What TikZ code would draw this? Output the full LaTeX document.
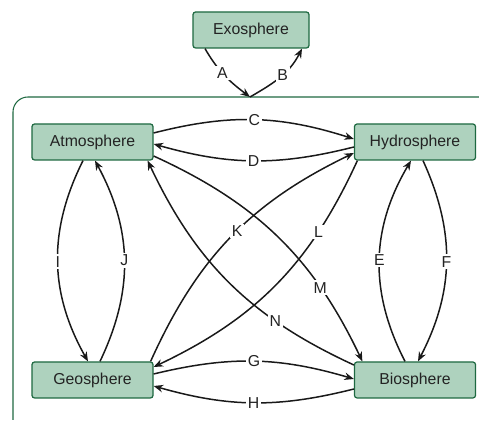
\documentclass[tikz,border=0pt]{standalone}
\definecolor{spheredark}{RGB}{30, 105, 65}
\definecolor{spherefill}{RGB}{174, 210, 190}
\definecolor{spheretext}{RGB}{35, 35, 35}
\usepackage{fontspec}
\setmainfont{Liberation Sans}
\usepackage{tikz}
\usetikzlibrary{arrows.meta}

\begin{document}
\begin{tikzpicture}[
    sphere/.style={draw=spheredark, line width=0.7pt, rounded corners=1.5pt, minimum width=2.42cm, minimum height=0.72cm, inner sep=0pt, align=center, fill=spherefill, text=spheretext, font=\fontsize{9}{11}\selectfont},
    flow/.style={-{Stealth[length=1.9mm, width=1.5mm]}, line width=0.85pt, color=black!90},
    tag/.style={fill=white, inner sep=1pt, text=spheretext, font=\fontsize{9}{11}\selectfont}
  ]
    \useasboundingbox (0, 0) rectangle (9.58, 8.44);

    % outer frame
    \draw[spheredark, line width=0.6pt, rounded corners=0.3cm] (9.58, 6.5) -- (0.26, 6.5) -- (0.26, 0.04);
    \coordinate (gate) at (5.0, 6.5);

    \node[sphere, minimum width=2.32cm] (exo) at (5.02, 7.84) {Exosphere};
    \node[sphere] (atm) at (1.85, 5.6) {Atmosphere};
    \node[sphere] (hyd) at (8.3, 5.6) {Hydrosphere};
    \node[sphere] (geo) at (1.85, 0.84) {Geosphere};
    \node[sphere] (bio) at (8.3, 0.84) {Biosphere};

    \draw[flow] ([xshift=-0.92cm]exo.south) to[out=-60, in=143] node[tag, pos=0.45] {A} (gate);
    \draw[flow] (gate) to[out=30, in=-117] node[tag, pos=0.55] {B} ([xshift=1.02cm]exo.south);

    \draw[flow] ([yshift=0.18cm]atm.east) to[bend left=16] node[tag] {C} ([yshift=0.06cm]hyd.west);
    \draw[flow] ([yshift=-0.1cm]hyd.west) to[bend left=15] node[tag] {D} ([yshift=-0.04cm]atm.east);
    \draw[flow] ([xshift=-0.2cm]bio.north) to[bend left=29] node[tag] {E} ([xshift=-0.08cm]hyd.south);
    \draw[flow] ([xshift=0.16cm]hyd.south) to[bend left=26] node[tag] {F} ([xshift=0.06cm]bio.north);
    \draw[flow] ([yshift=0.12cm]geo.east) to[bend left=15] node[tag] {G} ([yshift=0.02cm]bio.west);
    \draw[flow] ([yshift=-0.18cm]bio.west) to[bend left=15] node[tag] {H} ([yshift=-0.12cm]geo.east);
    \draw[flow] ([xshift=-0.19cm]atm.south) to[bend right=28] node[tag] {I} ([xshift=-0.09cm]geo.north);
    \draw[flow] ([xshift=0.15cm]geo.north) to[bend right=27] node[tag] {J} ([xshift=0.05cm]atm.south);

    \draw[flow] ([xshift=-0.06cm]geo.north east) to[bend left=20] node[tag, pos=0.53] {K} ([yshift=-0.22cm]hyd.west);
    \draw[flow] ([xshift=0.07cm]hyd.south west) to[bend left=20] node[tag, pos=0.26] {L} ([yshift=0.26cm]geo.east);
    \draw[flow] ([yshift=-0.28cm]atm.east) to[bend left=20] node[tag, pos=0.73] {M} ([xshift=0.17cm]bio.north west);
    \draw[flow] ([yshift=0.3cm]bio.west) to[bend left=20] node[tag, pos=0.29] {N} ([xshift=-0.12cm]atm.south east);
  \end{tikzpicture}
\end{document}
